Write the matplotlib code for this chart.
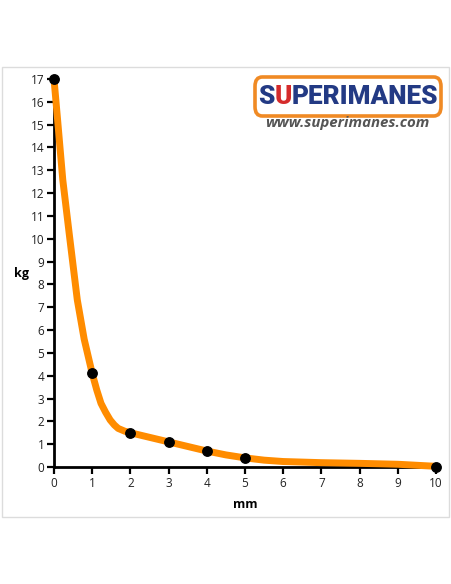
import matplotlib
matplotlib.use("Agg")
import matplotlib.pyplot as plt
from matplotlib.patches import FancyBboxPatch, Rectangle

# Measured points (mm, kg)
mm_points = [0, 1, 2, 3, 4, 5, 10]
kg_points = [17, 4.1, 1.5, 1.1, 0.7, 0.4, 0.02]

# Smooth curve
curve_mm = [0, 0.1, 0.23, 0.4, 0.61, 0.79, 1.0, 1.12, 1.23, 1.35, 1.47, 1.58, 1.68, 1.85, 2.0,
            2.5, 3.0, 3.5, 4.0, 4.5, 5.0, 5.5, 6.0, 7.0, 8.0, 9.0, 10.0]
curve_kg = [17, 15.1, 12.58, 10.2, 7.32, 5.6, 4.1, 3.37, 2.79, 2.4, 2.06, 1.84, 1.69, 1.57, 1.5,
            1.3, 1.1, 0.9, 0.7, 0.53, 0.4, 0.3, 0.24, 0.19, 0.16, 0.12, 0.03]

x_ticks = list(range(0, 11))
y_ticks = list(range(0, 18))

logo_parts = ['S', 'U', 'PERIMANES']
logo_colors = ['#233a84', '#d52b2b', '#233a84']
logo_url = 'www.superimanes.com'

plt.rcParams['font.family'] = ['Open Sans', 'DejaVu Sans']

W, H = 452, 584
fig = plt.figure(figsize=(W / 100, H / 100), dpi=100)
fig.patch.set_facecolor('white')

# outer light border
fig.patches.append(Rectangle((2 / W, 1 - 517 / H), 447 / W, 450 / H, transform=fig.transFigure,
                             fill=False, edgecolor='#dcdcdc', linewidth=1.0))

x0, x1 = 54, 436
y0, y1 = 79, 467
ax = fig.add_axes([x0 / W, 1 - y1 / H, (x1 - x0) / W, (y1 - y0) / H])
ax.set_xlim(0, 10)
ax.set_ylim(0, 17)
ax.plot(curve_mm, curve_kg, color='#ff8c00', linewidth=5.0, solid_capstyle='butt',
        solid_joinstyle='round', clip_on=False, zorder=3)
ax.plot(mm_points, kg_points, 'o', color='black', markersize=6.8, clip_on=False, zorder=4)

for s in ['top', 'right']:
    ax.spines[s].set_visible(False)
for s in ['left', 'bottom']:
    ax.spines[s].set_linewidth(2.0)
    ax.spines[s].set_color('black')
ax.set_xticks(x_ticks)
ax.set_yticks(y_ticks)
ax.tick_params(axis='both', direction='out', length=5, width=1.6, labelsize=8.5, pad=2,
               colors='black', labelcolor='#222222')

fig.text(22 / W, 1 - 273 / H, 'kg', fontsize=9, fontweight='bold', ha='center', va='center')
fig.text(245 / W, 1 - 504 / H, 'mm', fontsize=9, fontweight='bold', ha='center', va='center')

# logo box
fig.patches.append(FancyBboxPatch((255 / W, 1 - 116 / H), 186 / W, 39 / H, transform=fig.transFigure,
                                  boxstyle='round,pad=0,rounding_size=0.016', facecolor='white',
                                  edgecolor='#f08a24', linewidth=2.6))

renderer = fig.canvas.get_renderer()
logo_family = ['Roboto', 'DejaVu Sans']
texts = []
for part, col in zip(logo_parts, logo_colors):
    t = fig.text(0, 1 - 97 / H, part, fontsize=20, fontweight='black', color=col,
                 family=logo_family, ha='left', va='center')
    texts.append(t)
total = sum(t.get_window_extent(renderer).width for t in texts)
target = 180.0
fs = 20 * target / total
for t in texts:
    t.set_fontsize(fs)
xpos = 258.0
for t in texts:
    t.set_x(xpos / W)
    xpos += t.get_window_extent(renderer).width

u = fig.text(0, 1 - 123 / H, logo_url, fontsize=8, fontweight='bold', color='#555555',
             ha='left', va='center', style='italic')
uw = u.get_window_extent(renderer).width
u.set_fontsize(8 * 165 / uw)
u.set_x(265 / W)

fig.savefig('out.png', dpi=100)
